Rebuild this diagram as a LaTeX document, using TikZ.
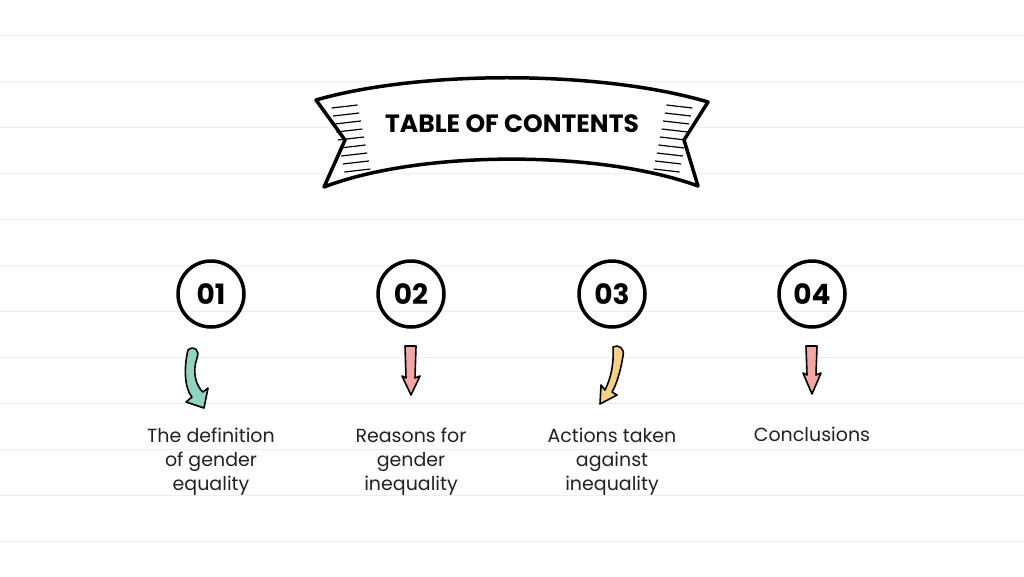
\documentclass[tikz,border=0pt]{standalone}
\usepackage{fontspec}
\setmainfont{Poppins}
\newfontfamily\titlefont{Poppins Bold}
\definecolor{teal1}{HTML}{8FD5C2}
\definecolor{pink1}{HTML}{F5A5A3}
\definecolor{yell1}{HTML}{F7D17E}
\definecolor{rule}{HTML}{EEEEEE}
\tikzset{
  num/.style={circle,draw=black,line width=3.5pt,minimum size=66pt,inner sep=0pt,font=\fontsize{28}{28}\selectfont\bfseries},
  lab/.style={align=center,font=\fontsize{19}{24}\selectfont\color[HTML]{222222}},
  arr/.style={draw=black,line width=1.6pt,line join=round}
}
\begin{document}
\begin{tikzpicture}[x=1pt,y=-1pt]
\useasboundingbox (0,0) rectangle (1024,576);
\fill[white] (0,0) rectangle (1024,576);
\foreach \y in {35,81,127,173,219,265,311,357,403,449,495,541}
  \draw[rule,line width=1pt] (0,\y) -- (1024,\y);
% banner
\draw[line width=3.5pt,fill=white,line join=round]
  (316,100) .. controls (420,70) and (600,70) .. (708,102)
  -- (684,140) -- (698,186)
  .. controls (600,150) and (420,150) .. (324,187)
  -- (345,140) -- cycle;
\foreach \yy in {108,116,124,132,140,148,156,164,172}{
  \draw[line width=1.2pt] (330+0.2*\yy-20,\yy) -- ++(26,-3);
  \draw[line width=1.2pt] (694-0.2*\yy+20,\yy) -- ++(-26,-3);
}
\node (title) at (512,124) {\titlefont\fontsize{25}{25}\selectfont TABLE OF CONTENTS};
% circles
\node[num] (c1) at (211,294) {01};
\node[num] (c2) at (411,294) {02};
\node[num] (c3) at (612,294) {03};
\node[num] (c4) at (812,294) {04};
% arrows
\draw[arr,fill=teal1] (188,350) .. controls (194,345) and (200,350) .. (197,358) .. controls (192,372) and (196,386) .. (203,392) -- (208,388) -- (204,408) -- (186,402) -- (192,397) .. controls (184,388) and (184,366) .. cycle;
\draw[arr,fill=pink1] (405,346) -- (416,346) -- (415,378) -- (420,376) -- (411,395) -- (402,376) -- (406,378) -- cycle;
\draw[arr,fill=yell1] (613,347) .. controls (618,344) and (625,348) .. (623,356) .. controls (620,374) and (616,385) .. (612,392) -- (617,395) -- (600,404) -- (601,385) -- (605,390) .. controls (611,378) and (614,364) .. cycle;
\draw[arr,fill=pink1] (806,346) -- (817,346) -- (816,375) -- (821,373) -- (812,394) -- (803,373) -- (807,375) -- cycle;
% labels
\node[lab] (l1) at (211,462) {The definition\\of gender\\equality};
\node[lab] (l2) at (411,462) {Reasons for\\gender\\inequality};
\node[lab] (l3) at (612,462) {Actions taken\\against\\inequality};
\node[lab] (l4) at (812,434) {Conclusions};
\end{tikzpicture}
\end{document}
